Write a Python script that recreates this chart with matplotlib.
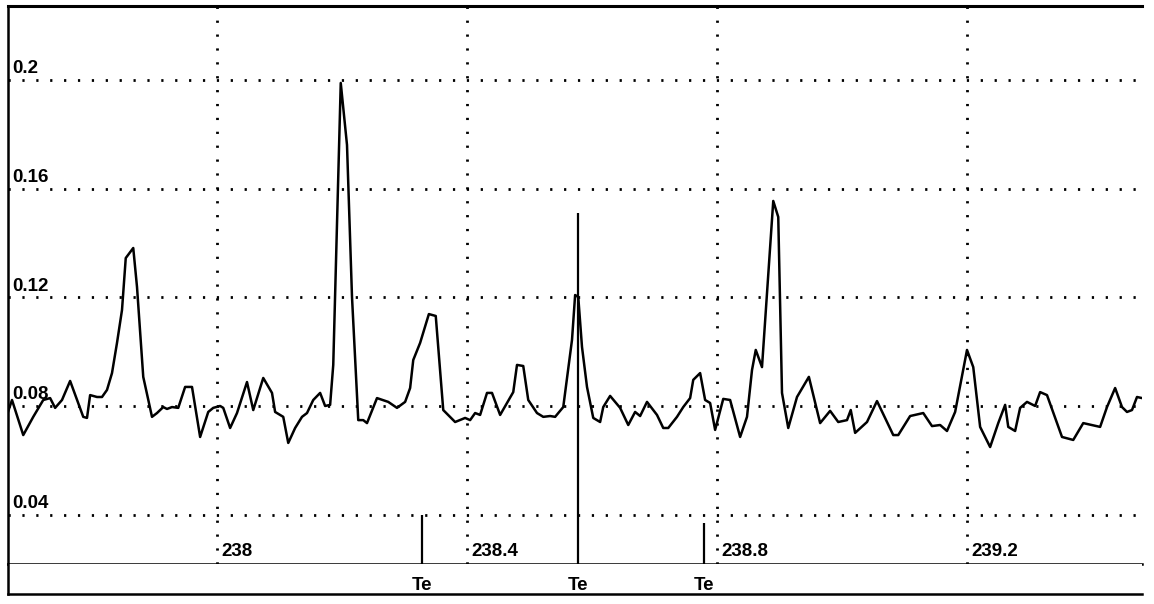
import matplotlib.pyplot as plt

plt.rcParams['font.family'] = ['Liberation Sans', 'DejaVu Sans']

# spectrum trace (wavelength, nm / absorbance)
wavelength = [
    237.664, 237.672, 237.690, 237.706, 237.722, 237.733, 237.741, 237.752, 237.765, 237.786,
    237.792, 237.797, 237.808, 237.816, 237.824, 237.832, 237.840, 237.848, 237.854, 237.866,
    237.872, 237.882, 237.896, 237.904, 237.914, 237.920, 237.928, 237.938, 237.949, 237.960,
    237.973, 237.986, 237.994, 238.005, 238.010, 238.021, 238.032, 238.048, 238.058, 238.074,
    238.088, 238.093, 238.106, 238.114, 238.125, 238.136, 238.144, 238.154, 238.165, 238.173,
    238.181, 238.186, 238.198, 238.208, 238.216, 238.226, 238.234, 238.240, 238.256, 238.274,
    238.288, 238.301, 238.309, 238.314, 238.325, 238.339, 238.350, 238.362, 238.381, 238.397,
    238.405, 238.413, 238.421, 238.432, 238.440, 238.453, 238.474, 238.480, 238.490, 238.498,
    238.512, 238.522, 238.533, 238.541, 238.554, 238.568, 238.573, 238.578, 238.584, 238.592,
    238.602, 238.613, 238.618, 238.629, 238.645, 238.658, 238.669, 238.677, 238.688, 238.704,
    238.714, 238.722, 238.736, 238.746, 238.757, 238.762, 238.773, 238.781, 238.789, 238.797,
    238.810, 238.821, 238.837, 238.848, 238.856, 238.862, 238.872, 238.880, 238.890, 238.898,
    238.904, 238.914, 238.928, 238.947, 238.965, 238.981, 238.994, 239.008, 239.014, 239.021,
    239.040, 239.056, 239.082, 239.090, 239.109, 239.130, 239.144, 239.157, 239.168, 239.181,
    239.200, 239.210, 239.221, 239.237, 239.250, 239.261, 239.266, 239.277, 239.285, 239.296,
    239.309, 239.317, 239.328, 239.352, 239.370, 239.386, 239.413, 239.424, 239.437, 239.448,
    239.456, 239.464, 239.472, 239.480,
]
absorbance = [
    0.0768, 0.0823, 0.0694, 0.0761, 0.0823, 0.0830, 0.0794, 0.0823, 0.0893, 0.0761,
    0.0757, 0.0841, 0.0834, 0.0834, 0.0860, 0.0922, 0.1033, 0.1154, 0.1345, 0.1382,
    0.1239, 0.0908, 0.0761, 0.0775, 0.0797, 0.0790, 0.0797, 0.0794, 0.0871, 0.0871,
    0.0687, 0.0779, 0.0794, 0.0801, 0.0794, 0.0720, 0.0775, 0.0889, 0.0786, 0.0904,
    0.0849, 0.0779, 0.0761, 0.0665, 0.0720, 0.0761, 0.0775, 0.0823, 0.0849, 0.0801,
    0.0805, 0.0952, 0.1989, 0.1761, 0.1202, 0.0749, 0.0749, 0.0738, 0.0830, 0.0816,
    0.0794, 0.0816, 0.0867, 0.0970, 0.1033, 0.1139, 0.1132, 0.0786, 0.0742, 0.0757,
    0.0749, 0.0775, 0.0768, 0.0849, 0.0849, 0.0768, 0.0852, 0.0952, 0.0948, 0.0823,
    0.0775, 0.0761, 0.0764, 0.0761, 0.0797, 0.1044, 0.1209, 0.1202, 0.1018, 0.0871,
    0.0757, 0.0742, 0.0797, 0.0838, 0.0794, 0.0731, 0.0779, 0.0764, 0.0816, 0.0768,
    0.0720, 0.0720, 0.0761, 0.0797, 0.0830, 0.0897, 0.0922, 0.0823, 0.0812, 0.0713,
    0.0827, 0.0823, 0.0687, 0.0761, 0.0933, 0.1007, 0.0944, 0.1217, 0.1555, 0.1496,
    0.0849, 0.0720, 0.0834, 0.0908, 0.0738, 0.0783, 0.0742, 0.0749, 0.0786, 0.0702,
    0.0742, 0.0819, 0.0694, 0.0694, 0.0764, 0.0775, 0.0727, 0.0731, 0.0709, 0.0779,
    0.1007, 0.0944, 0.0724, 0.0650, 0.0738, 0.0805, 0.0724, 0.0709, 0.0794, 0.0816,
    0.0801, 0.0852, 0.0841, 0.0687, 0.0676, 0.0738, 0.0724, 0.0797, 0.0867, 0.0797,
    0.0779, 0.0786, 0.0834, 0.0830,
]

# Te reference lines
te_wavelength = [238.328, 238.578, 238.779]
te_height = [0.040, 0.151, 0.037]
te_label = 'Te'

x_ticks = [238.0, 238.4, 238.8, 239.2]
x_tick_labels = ['238', '238.4', '238.8', '239.2']
y_ticks = [0.04, 0.08, 0.12, 0.16, 0.2]
y_tick_labels = ['0.04', '0.08', '0.12', '0.16', '0.2']

X_RANGE = (237.6656, 239.48)
Y_RANGE = (0.02198, 0.2272)

W, H = 1154, 604
fig = plt.figure(figsize=(W / 100, H / 100), dpi=100)
ax = fig.add_axes([8 / W, (H - 564) / H, 1134 / W, 558 / H])
strip = fig.add_axes([8 / W, (H - 594) / H, 1134 / W, 30 / H], sharex=ax)

ax.set_xlim(*X_RANGE)
ax.set_ylim(*Y_RANGE)

dots = (0, (0.8, 4.2))
for v in x_ticks:
    ax.axvline(v, color='black', lw=2, ls=dots, zorder=1)
for v in y_ticks:
    ax.axhline(v, color='black', lw=2, ls=dots, zorder=1)

ax.plot(wavelength, absorbance, color='black', lw=1.8, zorder=3)
ax.vlines(te_wavelength, Y_RANGE[0], te_height, color='black', lw=1.6, zorder=3)

font = dict(size=13.5, weight='bold', color='black')
for v, s in zip(y_ticks, y_tick_labels):
    ax.annotate(s, xy=(0, v), xycoords=ax.get_yaxis_transform(),
                xytext=(3, 5), textcoords='offset points', va='baseline', ha='left', **font)
for v, s in zip(x_ticks, x_tick_labels):
    ax.annotate(s, xy=(v, 0), xycoords=ax.get_xaxis_transform(),
                xytext=(3, 6), textcoords='offset points', va='baseline', ha='left', **font)
for v in te_wavelength:
    strip.annotate(te_label, xy=(v, 0), xycoords=strip.get_xaxis_transform(),
                   xytext=(0, 3), textcoords='offset points', va='baseline', ha='center', **font)

for a in (ax, strip):
    a.set_xticks([])
    a.set_yticks([])
    a.spines['right'].set_visible(False)
    for side in ('left', 'top', 'bottom'):
        a.spines[side].set_linewidth(1.8)
strip.spines['top'].set_visible(False)
ax.spines['top'].set_linewidth(2.2)

fig.savefig('out.png', dpi=100, facecolor='white')
